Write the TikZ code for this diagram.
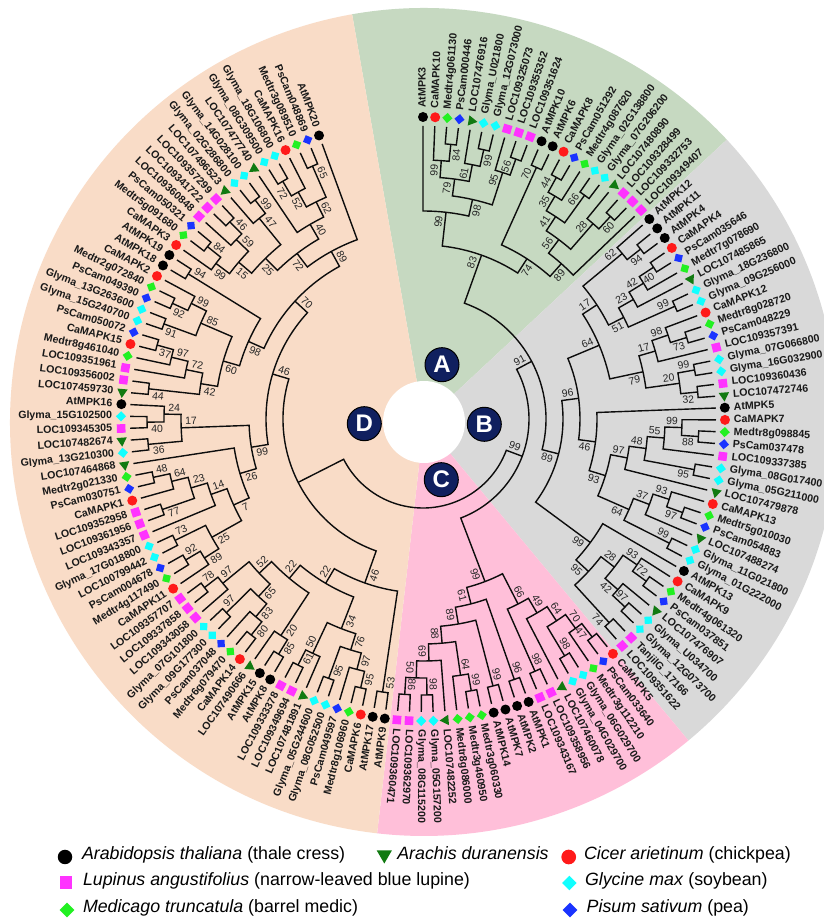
\documentclass[tikz,border=0pt]{standalone}
\usepackage{fontspec}
\setmainfont{Liberation Sans}
\usetikzlibrary{shapes.geometric}
\definecolor{wpeach}{HTML}{F9DCC7}
\definecolor{wgreen}{HTML}{C6D9C1}
\definecolor{wgray}{HTML}{D9D9D9}
\definecolor{wpink}{HTML}{FFBFD9}
\definecolor{cred}{HTML}{FF1A1A}
\definecolor{cgreen}{HTML}{22F022}
\definecolor{cblue}{HTML}{1A33FF}
\definecolor{cmag}{HTML}{FF33FF}
\definecolor{ccyan}{HTML}{11FFFF}
\definecolor{ctri}{HTML}{117A11}
\definecolor{navy}{HTML}{10205F}
\tikzset{
 branch/.style={line width=1.4pt,black!95},
 mkb/.style={circle,fill=black,minimum size=10pt,inner sep=0pt,outer sep=0pt},
 mkr/.style={circle,fill=cred,minimum size=10pt,inner sep=0pt,outer sep=0pt},
 mkm/.style={rectangle,fill=cmag,minimum size=8.6pt,inner sep=0pt,outer sep=0pt,rotate=#1},
 mkc/.style={rectangle,fill=ccyan,minimum size=7.2pt,inner sep=0pt,outer sep=0pt,rotate=#1+45},
 mkg/.style={rectangle,fill=cgreen,minimum size=7.2pt,inner sep=0pt,outer sep=0pt,rotate=#1+45},
 mkp/.style={rectangle,fill=cblue,minimum size=7.2pt,inner sep=0pt,outer sep=0pt,rotate=#1+45},
 mkt/.style={regular polygon,regular polygon sides=3,fill=ctri,minimum size=12pt,inner sep=0pt,outer sep=0pt,rotate=#1-180},
 leaftxt/.style={inner sep=0pt,outer sep=0pt,font=\fontsize{10.6}{11}\selectfont\bfseries,text=black!90},
 boot/.style={inner sep=0pt,outer sep=0pt,font=\fontsize{10.5}{10.5}\selectfont,text=black!85},
 badge/.style={circle,fill=navy,draw=black,line width=1pt,minimum size=34pt,inner sep=0pt,text=white,font=\fontsize{24}{24}\selectfont\bfseries},
 legtxt/.style={inner sep=0pt,outer sep=0pt,anchor=mid west,font=\fontsize{17.8}{18}\selectfont,text=black}
}
\newcount\stk \newcount\leafno \newcount\nodeno
\newcommand\PushIt[3]{\global\advance\stk by 1 %
 \expandafter\xdef\csname sa\the\stk\endcsname{#1}%
 \expandafter\xdef\csname sh\the\stk\endcsname{#2}%
 \expandafter\xdef\csname sn\the\stk\endcsname{#3}}
\newcommand\Tp[2]{\global\advance\leafno by 1 %
 \pgfmathsetmacro\ang{90-(\the\leafno-1)*2.312}%
 \coordinate (e\the\leafno) at (\ang:293pt);%
 \ifnum\leafno>81 %
  \pgfmathsetmacro\rot{\ang+180}%
  \node[mk#1=\rot] (m\the\leafno) at (\ang:302pt) {};%
  \node[leaftxt,rotate=\rot,anchor=mid east] (t\the\leafno) at (\ang:311pt) {#2};%
 \else
  \node[mk#1=\ang] (m\the\leafno) at (\ang:302pt) {};%
  \node[leaftxt,rotate=\ang,anchor=mid west] (t\the\leafno) at (\ang:311pt) {#2};%
 \fi
 \PushIt{\ang}{0}{e\the\leafno}}
\newcommand\Kl[2]{\global\advance\nodeno by 1 %
 \edef\idB{\the\stk}\edef\idA{\the\numexpr\stk-1\relax}%
 \edef\aA{\csname sa\idA\endcsname}\edef\aB{\csname sa\idB\endcsname}%
 \edef\hA{\csname sh\idA\endcsname}\edef\hB{\csname sh\idB\endcsname}%
 \edef\nA{\csname sn\idA\endcsname}\edef\nB{\csname sn\idB\endcsname}%
 \pgfmathsetmacro\ang{(\aA+\aB)/2}%
 \pgfmathtruncatemacro\hh{max(\hA,\hB)+1}%
 \pgfmathsetmacro\rr{293-17*\hh}%
 \draw[branch] (\nA) -- (\aA:\rr pt) arc[start angle=\aA,end angle=\aB,radius=\rr pt] -- (\nB);%
 \coordinate (n\the\nodeno) at (\ang:\rr pt);%
 \ifnum#2=0 \else
  \pgfmathsetmacro\rl{\rr-10}%
  \pgfmathsetmacro\la{\ang+(#2)*6.5/\rl*57.3}%
  \pgfmathsetmacro\ro{(\ang<-96)?(\ang+180):(\ang)}%
  \node[boot,rotate=\ro] (b\the\nodeno) at (\la:\rl pt) {#1};%
 \fi
 \global\advance\stk by -2 %
 \PushIt{\ang}{\hh}{n\the\nodeno}}
\newcommand\kP[1]{\Kl{#1}{1}}
\newcommand\kM[1]{\Kl{#1}{-1}}
\newcommand\kN{\Kl{}{0}}
\begin{document}
\begin{tikzpicture}
\useasboundingbox (0pt,0pt) rectangle (823pt,921pt);
\fill[white] (0pt,0pt) rectangle (823pt,921pt);
\coordinate (wc) at (424pt,499pt);
\fill[wgreen] (wc) -- ++(100:414pt) arc[start angle=100,end angle=43,radius=414pt] -- cycle;
\fill[wgray] (wc) -- ++(43:414pt) arc[start angle=43,end angle=-50.3,radius=414pt] -- cycle;
\fill[wpink] (wc) -- ++(-50.3:414pt) arc[start angle=-50.3,end angle=-96.5,radius=414pt] -- cycle;
\fill[wpeach] (wc) -- ++(-96.5:414pt) arc[start angle=-96.5,end angle=-260,radius=414pt] -- cycle;
\fill[white] (wc) circle[radius=41pt];
\node[badge] (ba) at (442pt,556.3pt) {A};
\node[badge] (bb) at (484.3pt,496.7pt) {B};
\node[badge] (bc) at (441.3pt,441.3pt) {C};
\node[badge] (bd) at (364.3pt,497.3pt) {D};
\begin{scope}[shift={(423pt,502pt)}]
% clade A
\Tp{b}{AtMPK3}\Tp{r}{CaMAPK10}\Tp{g}{Medtr4g061130}\Tp{p}{PsCam000446}\kM{84}\kP{99}
\Tp{t}{LOC107476916}\Tp{c}{Glyma\_U021800}\Tp{c}{Glyma\_12G073000}\kM{99}\kP{61}\kP{79}
\Tp{m}{LOC109325073}\Tp{m}{LOC109355352}\Tp{m}{LOC109351624}\kP{56}\kP{95}\kM{98}\kP{99}
\Tp{b}{AtMPK10}\Tp{b}{AtMPK6}\kP{70}
\Tp{r}{CaMAPK8}\Tp{p}{PsCam051292}\kP{44}\Tp{g}{Medtr4g087620}\kP{35}
\Tp{c}{Glyma\_02G138800}\Tp{c}{Glyma\_07G206200}\kP{66}\kP{41}
\Tp{t}{LOC107480890}\Tp{m}{LOC109328499}\Tp{m}{LOC109332753}\kM{60}\kP{28}\kP{56}
\Tp{m}{LOC109349407}\kM{89}\kM{74}\kP{83}
% clade B
\Tp{b}{AtMPK12}\Tp{b}{AtMPK11}\Tp{b}{AtMPK4}\kM{94}\kP{62}
\Tp{r}{CaMAPK4}\Tp{p}{PsCam035646}\kM{40}\Tp{g}{Medtr7g078690}\kP{42}\Tp{t}{LOC107485865}\kP{23}
\Tp{c}{Glyma\_18G236800}\Tp{c}{Glyma\_09G256000}\kP{99}\kM{51}\kP{17}
\Tp{r}{CaMAPK12}\Tp{g}{Medtr8g028720}\Tp{p}{PsCam048229}\kM{73}\kP{98}\Tp{m}{LOC109357391}\kP{17}
\Tp{c}{Glyma\_07G066800}\Tp{c}{Glyma\_16G032900}\kP{99}\Tp{m}{LOC109360436}\Tp{t}{LOC107472746}\kM{32}\kP{20}\kM{79}\kP{64}
\Tp{b}{AtMPK5}
\Tp{r}{CaMAPK7}\Tp{g}{Medtr8g098845}\Tp{p}{PsCam037478}\kM{88}\kP{99}\Tp{m}{LOC109337385}\kP{55}
\Tp{c}{Glyma\_08G017400}\Tp{c}{Glyma\_05G211000}\kM{95}\kP{48}\Tp{t}{LOC107479878}\kP{97}
\Tp{r}{CaMAPK13}\Tp{g}{Medtr5g010030}\Tp{p}{PsCam054883}\kM{97}\kP{93}\Tp{t}{LOC107488274}\kP{37}
\Tp{c}{Glyma\_11G021800}\Tp{c}{Glyma\_01G222000}\kP{99}\kM{64}\kM{93}\kM{46}\kP{96}
\Tp{b}{AtMPK13}\Tp{r}{CaMAPK9}\Tp{g}{Medtr4g061320}\Tp{p}{PsCam037851}\kP{72}\kP{93}
\Tp{t}{LOC107476907}\Tp{c}{Glyma\_U034700}\Tp{c}{Glyma\_12G073700}\kP{97}\kM{42}\kP{28}
\Tp{m}{TanjilG\_17166}\Tp{m}{LOC109351622}\kM{74}\kM{95}\kM{99}\kM{89}
\kP{91}
% clade C
\Tp{r}{CaMAPK5}\Tp{p}{PsCam033640}\kM{47}\Tp{g}{Medtr3g112210}\kP{70}
\Tp{c}{Glyma\_06G029700}\Tp{c}{Glyma\_04G029700}\kP{98}\kP{64}\Tp{t}{LOC107460078}\kP{49}
\Tp{m}{LOC109358956}\Tp{m}{LOC109343167}\kP{98}\kP{66}
\Tp{b}{AtMPK1}\Tp{b}{AtMPK2}\kP{96}
\Tp{b}{AtMPK7}\Tp{b}{AtMPK14}\kP{99}
\Tp{g}{Medtr3g060330}\Tp{g}{Medtr3g460950}\kP{99}\Tp{g}{Medtr8g086000}\kP{64}
\Tp{t}{LOC107482252}\Tp{c}{Glyma\_05G157200}\Tp{c}{Glyma\_08G115200}\kP{98}
\Tp{m}{LOC109362970}\Tp{m}{LOC109360471}\kP{86}\kM{50}\kM{69}\kM{88}\kM{89}\kM{61}\kM{99}
\kP{99}
% clade D
\Tp{b}{AtMPK9}\Tp{b}{AtMPK17}\kP{53}
\Tp{r}{CaMAPK6}\Tp{g}{Medtr8g106960}\kP{95}\Tp{p}{PsCam049597}\kP{97}
\Tp{c}{Glyma\_08G052500}\Tp{c}{Glyma\_05G244600}\kP{95}\kP{76}
\Tp{t}{LOC107481891}\Tp{m}{LOC109349694}\Tp{m}{LOC109333378}\kP{61}\kM{50}\kP{34}
\Tp{b}{AtMPK8}\Tp{b}{AtMPK15}\kP{85}\Tp{t}{LOC107490666}\kP{20}
\Tp{r}{CaMAPK14}\Tp{g}{Medtr6g079470}\kP{80}\Tp{p}{PsCam037048}\kP{83}
\Tp{c}{Glyma\_09G177300}\Tp{c}{Glyma\_07G101800}\kM{97}\kP{65}
\Tp{m}{LOC109343058}\Tp{m}{LOC109337858}\Tp{m}{LOC109357707}\kM{78}\kM{97}\kM{52}
\kM{22}\kM{22}\kP{46}
\Tp{r}{CaMAPK11}\Tp{g}{Medtr4g117490}\Tp{p}{PsCam004678}\kM{92}\kP{89}
\Tp{c}{LOC100799442}\Tp{c}{Glyma\_17G018800}\kM{73}\kP{25}
\Tp{m}{LOC109343357}\Tp{m}{LOC109361956}\Tp{m}{LOC109352958}\kP{77}
\Tp{r}{CaMAPK1}\Tp{p}{PsCam030751}\Tp{g}{Medtr2g021330}\kM{48}\kM{64}\kM{23}\kM{14}\kP{7}
\Tp{t}{LOC107464868}\kP{26}
\Tp{c}{Glyma\_13G210300}\Tp{t}{LOC107482674}\kP{36}
\Tp{m}{LOC109345305}\Tp{c}{Glyma\_15G102500}\kP{40}\Tp{b}{AtMPK16}\kM{24}\kM{17}\kP{99}
\Tp{t}{LOC107459730}\Tp{m}{LOC109356002}\kP{44}
\Tp{m}{LOC109351961}\Tp{g}{Medtr8g461040}\Tp{r}{CaMAPK15}\Tp{p}{PsCam050072}\kP{37}\kM{97}\kM{72}\kP{42}
\Tp{c}{Glyma\_15G240700}\Tp{c}{Glyma\_13G263600}\kP{91}
\Tp{p}{PsCam049390}\Tp{g}{Medtr2g072840}\kP{92}\Tp{r}{CaMAPK2}\kM{99}\kM{85}\kP{60}
\Tp{b}{AtMPK18}\Tp{b}{AtMPK19}\kM{94}\kP{98}
\Tp{r}{CaMAPK3}\Tp{g}{Medtr5g091680}\Tp{p}{PsCam050321}\kM{84}\kP{99}
\Tp{m}{LOC109360848}\Tp{m}{LOC109341722}\Tp{m}{LOC109357299}\kM{46}\kM{59}\kP{15}
\Tp{t}{LOC107496523}\Tp{c}{Glyma\_02G286800}\Tp{c}{Glyma\_14G028100}\kM{99}\kM{47}\kP{25}
\Tp{t}{LOC107477740}\Tp{c}{Glyma\_08G309500}\Tp{c}{Glyma\_18G106800}\kP{72}\Tp{r}{CaMAPK16}\kP{52}
\Tp{g}{Medtr3g089510}\Tp{p}{PsCam048869}\kM{65}\kM{62}\kM{40}\kP{72}
\Tp{b}{AtMPK20}\kM{89}\kM{70}\kM{46}\kN\kN
\end{scope}
% legend
\node[circle,fill=black,minimum size=14.5pt,inner sep=0pt] (l1) at (65pt,64pt) {};
\node[legtxt] (lt1) at (82pt,64pt) {\textit{Arabidopsis thaliana} (thale cress)};
\node[regular polygon,regular polygon sides=3,shape border rotate=180,fill=ctri,minimum size=17.5pt,inner sep=0pt] (l2) at (384.3pt,66.2pt) {};
\node[legtxt] (lt2) at (397.3pt,64pt) {\textit{Arachis duranensis}};
\node[circle,fill=cred,minimum size=14.7pt,inner sep=0pt] (l3) at (568.7pt,64pt) {};
\node[legtxt] (lt3) at (584pt,64pt) {\textit{Cicer arietinum} (chickpea)};
\node[rectangle,fill=cmag,minimum width=12pt,minimum height=13pt,inner sep=0pt] (l4) at (66pt,38pt) {};
\node[legtxt] (lt4) at (83pt,38pt) {\textit{Lupinus angustifolius} (narrow-leaved blue lupine)};
\node[diamond,fill=ccyan,minimum size=14.7pt,inner sep=0pt] (l5) at (569.3pt,38pt) {};
\node[legtxt] (lt5) at (585pt,38pt) {\textit{Glycine max} (soybean)};
\node[diamond,fill=cgreen,minimum size=14.7pt,inner sep=0pt] (l6) at (67pt,11pt) {};
\node[legtxt] (lt6) at (83pt,11pt) {\textit{Medicago truncatula} (barrel medic)};
\node[diamond,fill=cblue,minimum size=14.7pt,inner sep=0pt] (l7) at (570pt,11pt) {};
\node[legtxt] (lt7) at (586.7pt,11pt) {\textit{Pisum sativum} (pea)};
\end{tikzpicture}
\end{document}
